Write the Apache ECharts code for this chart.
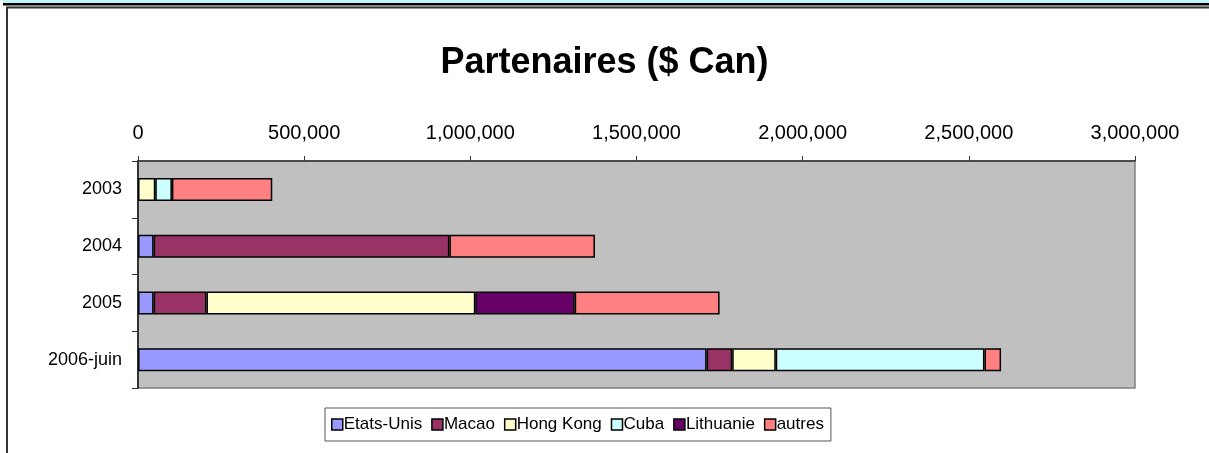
<!DOCTYPE html>
<html>
<head>
<meta charset="utf-8">
<script src="https://cdn.jsdelivr.net/npm/echarts@6/dist/echarts.min.js"></script>
<style>
  html, body { margin: 0; padding: 0; background: #fff; }
  #chart { width: 1209px; height: 453px; }
</style>
</head>
<body>
<div id="chart"></div>
<script>
var years = ['2003', '2004', '2005', '2006-juin'];
var partners = ['Etats-Unis', 'Macao', 'Hong Kong', 'Cuba', 'Lithuanie', 'autres'];
var colors = ['#9999FF', '#993366', '#FFFFCC', '#CCFFFF', '#660066', '#FF8080'];

var etatsUnis = [0, 47000, 47000, 1711000];
var macao = [0, 890000, 159000, 77000];
var hongKong = [52000, 0, 809000, 131000];
var cuba = [50000, 0, 0, 628000];
var lithuanie = [0, 0, 299000, 0];
var autres = [302000, 438000, 436000, 50000];

var seriesValues = [etatsUnis, macao, hongKong, cuba, lithuanie, autres];

var myChart = echarts.init(document.getElementById('chart'));

var series = [];
for (var i = 0; i < partners.length; i++) {
  series.push({
    name: partners[i],
    type: 'bar',
    stack: 'total',
    barWidth: 23,
    data: seriesValues[i].map(function (v) { return v === 0 ? null : v; }),
    itemStyle: {
      color: colors[i],
      borderColor: '#000',
      borderWidth: 1.5
    }
  });
}

var option = {
  animation: false,
  color: colors,
  title: {
    text: 'Partenaires ($ Can)',
    left: 'center',
    top: 40,
    textStyle: {
      fontFamily: 'Liberation Sans',
      fontWeight: 'bold',
      fontSize: 36,
      color: '#000'
    }
  },
  legend: {
    left: 325,
    top: 408,
    icon: 'rect',
    itemWidth: 11,
    itemHeight: 11,
    itemGap: 9,
    padding: [8, 7, 8, 6],
    borderColor: '#555',
    borderWidth: 1,
    textStyle: {
      fontFamily: 'Liberation Sans',
      fontSize: 17,
      color: '#000',
      padding: [0, 0, 0, -4]
    },
    data: partners.map(function (p) {
      return { name: p, itemStyle: { borderColor: '#000', borderWidth: 1.5 } };
    })
  },
  grid: {
    left: 138,
    right: 74,
    top: 161,
    bottom: 65,
    show: true,
    backgroundColor: '#C0C0C0',
    borderColor: '#808080',
    borderWidth: 1.5
  },
  xAxis: {
    type: 'value',
    position: 'top',
    min: 0,
    max: 3000000,
    interval: 500000,
    axisLine: { show: true, lineStyle: { color: '#333', width: 1.5 } },
    axisTick: { show: true, length: 5, inside: false, lineStyle: { color: '#333' } },
    splitLine: { show: false },
    axisLabel: {
      margin: 18,
      fontFamily: 'Liberation Sans',
      fontSize: 20,
      color: '#000',
      formatter: function (v) { return v.toLocaleString('en-US'); }
    }
  },
  yAxis: {
    type: 'category',
    data: years,
    inverse: true,
    axisLine: { show: true, lineStyle: { color: '#333', width: 2 } },
    axisTick: { show: true, length: 6, lineStyle: { color: '#333' } },
    axisLabel: {
      margin: 16,
      fontFamily: 'Liberation Sans',
      fontSize: 18,
      color: '#000'
    }
  },
  series: series,
  graphic: [
    { type: 'rect', shape: { x: 3, y: 0, width: 1206, height: 3 }, style: { fill: '#BFF6F6' } },
    { type: 'rect', shape: { x: 3, y: 3, width: 1206, height: 2.5 }, style: { fill: '#000' } },
    { type: 'rect', shape: { x: 6, y: 6, width: 1203, height: 1 }, style: { fill: '#888' } },
    { type: 'rect', shape: { x: 6, y: 7, width: 1203, height: 1.5 }, style: { fill: '#333' } },
    { type: 'rect', shape: { x: 6, y: 7, width: 2, height: 446 }, style: { fill: '#333' } }
  ]
};

myChart.setOption(option);
</script>
</body>
</html>
